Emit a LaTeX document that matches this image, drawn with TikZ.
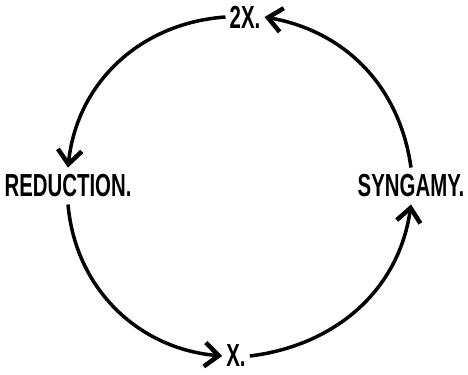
\documentclass[tikz,border=0pt]{standalone}
\usepackage{fontspec}
\usetikzlibrary{arrows.meta}
\newfontfamily\letterfont[FakeStretch=0.64]{Liberation Sans}

\begin{document}
\begin{tikzpicture}[
	x=1bp, y=1bp, % one unit is one pixel of the page
	% Style for the lettered stage labels
	stage label/.style={
		font=\letterfont\bfseries\fontsize{32}{32}\selectfont,
		inner xsep=4pt,
		inner ysep=7pt
	},
	% Style for the curved arrows of the cycle
	cycle arrow/.style={
		draw=black,
		line width=3.5bp,
		-{Straight Barb[length=14bp, width=24bp, line width=4.5bp]}
	}
	]
	\useasboundingbox (0,0) rectangle (468,374);
	
	% 1. Stage labels (top, left, bottom, right)
	\node[stage label] (twox) at (245,357) {2X.};
	\node[stage label] (reduction) at (68,188) {REDUCTION.};
	\node[stage label] (onex) at (236,18) {X.};
	\node[stage label] (syngamy) at (411,188) {SYNGAMY.};
	
	% 2. Arcs of the cycle, running anticlockwise
	\draw[cycle arrow] (twox.west) to[out=184, in=84] (reduction.north);
	\draw[cycle arrow] (reduction.south) to[out=275, in=175] (onex.west);
	\draw[cycle arrow] (onex.east) to[out=7, in=262] (syngamy.south);
	\draw[cycle arrow] (syngamy.north) to[out=98, in=350] (twox.east);
	
\end{tikzpicture}
\end{document}
